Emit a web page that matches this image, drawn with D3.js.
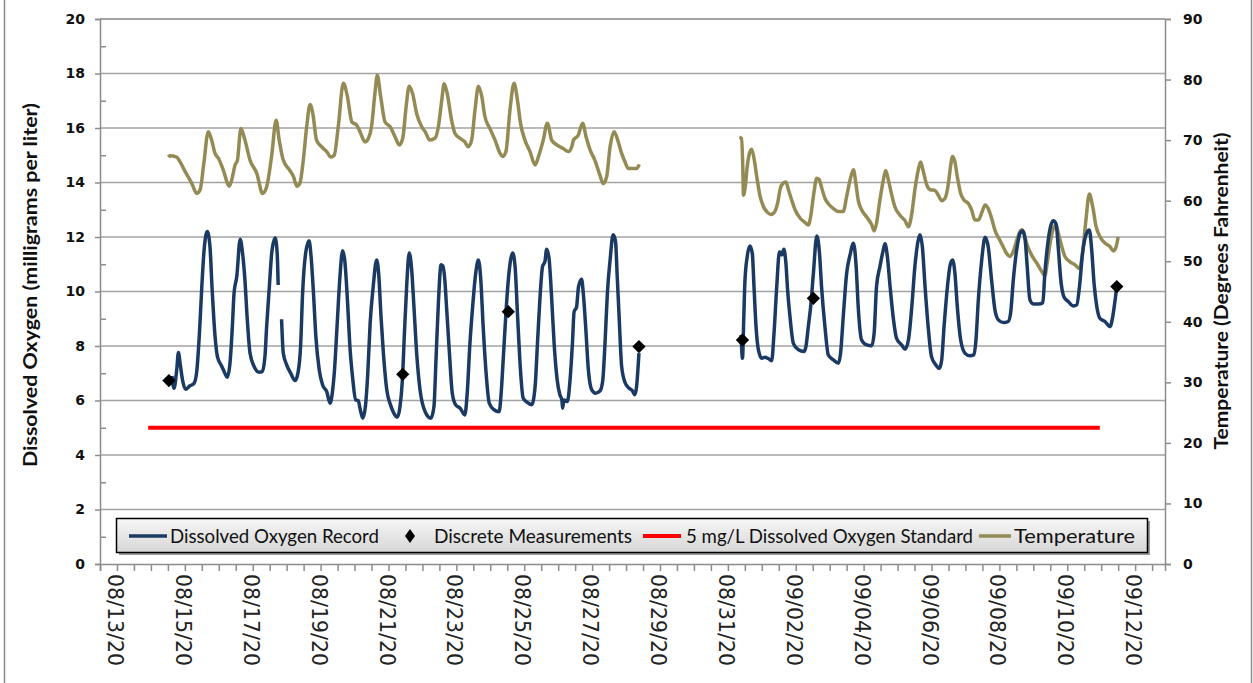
<!DOCTYPE html>
<html>
<head>
<meta charset="utf-8">
<script src="https://cdn.jsdelivr.net/npm/d3@7"></script>
<style>
  body { margin: 0; background: #fff; }
  svg { display: block; }
</style>
</head>
<body>
<svg></svg>
<script>
// Chart size
var width = 1253,
    height = 683

// Data: times are days after 08/13/20 00:00
var startDate = Date.UTC(2020, 7, 13)
var dateLabels = d3.range(0, 31, 2)

// Dissolved oxygen record (mg/L), three pieces with gaps between them
var doPiece1 = [[2.12,6.9],[2.18,6.45],[2.26,7.12],[2.31,7.76],[2.36,7.37],[2.43,6.76],[2.52,6.41],[2.65,6.54],[2.77,6.63],[2.85,7.06],[2.93,8.47],[3.00,10.18],[3.06,11.41],[3.16,12.20],[3.24,11.65],[3.30,10.18],[3.39,8.35],[3.46,7.61],[3.59,7.25],[3.68,7.00],[3.75,6.85],[3.83,7.37],[3.90,8.71],[3.95,9.94],[4.03,10.55],[4.13,11.92],[4.20,11.41],[4.27,10.43],[4.34,8.96],[4.42,7.74],[4.54,7.25],[4.69,7.04],[4.78,7.06],[4.86,7.61],[4.91,8.71],[4.99,10.18],[5.06,11.41],[5.16,11.96],[5.22,11.41],[5.25,10.24]]
var doPiece2 = [[5.35,8.98],[5.40,7.74],[5.50,7.31],[5.62,7.00],[5.75,6.73],[5.84,7.06],[5.91,7.98],[5.97,9.94],[6.06,11.41],[6.16,11.86],[6.22,11.28],[6.29,9.94],[6.36,8.35],[6.46,7.12],[6.56,6.57],[6.68,6.33],[6.78,5.90],[6.85,6.33],[6.91,7.12],[6.99,8.84],[7.07,10.55],[7.15,11.50],[7.22,11.04],[7.29,9.69],[7.37,7.86],[7.45,6.76],[7.53,6.02],[7.61,6.00],[7.66,5.72],[7.74,5.35],[7.82,5.78],[7.89,7.00],[7.96,8.84],[8.05,10.18],[8.15,11.16],[8.21,10.67],[8.28,9.08],[8.35,7.74],[8.45,6.39],[8.56,5.84],[8.66,5.53],[8.76,5.39],[8.84,5.78],[8.91,6.76],[8.97,8.47],[9.04,10.30],[9.11,11.41],[9.18,10.85],[9.25,9.45],[9.33,7.74],[9.43,6.39],[9.58,5.59],[9.75,5.35],[9.84,5.78],[9.90,7.49],[9.97,9.57],[10.05,10.98],[10.10,10.94],[10.16,10.43],[10.21,9.45],[10.29,7.86],[10.38,6.27],[10.48,5.84],[10.61,5.72],[10.75,5.47],[10.82,6.27],[10.90,8.10],[10.98,9.45],[11.07,10.67],[11.15,11.16],[11.22,10.43],[11.29,8.71],[11.37,7.12],[11.47,5.90],[11.61,5.66],[11.76,5.59],[11.82,6.27],[11.88,7.49],[11.96,9.20],[12.04,10.55],[12.16,11.41],[12.23,10.92],[12.30,9.20],[12.37,7.49],[12.47,6.08],[12.59,5.93],[12.72,5.84],[12.82,6.51],[12.89,8.10],[12.96,9.69],[13.04,10.92],[13.11,11.10],[13.16,11.55],[13.23,11.22],[13.30,9.94],[13.38,8.10],[13.47,6.76],[13.55,6.21],[13.61,6.02],[13.63,5.72],[13.67,6.02],[13.77,5.96],[13.85,6.76],[13.92,8.10],[13.97,9.26],[14.04,9.42],[14.10,10.18],[14.19,10.45],[14.24,9.94],[14.31,8.71],[14.39,7.12],[14.49,6.39],[14.60,6.27],[14.73,6.35],[14.81,6.70],[14.88,8.10],[14.95,9.94],[15.03,11.16],[15.12,12.08],[15.19,11.83],[15.24,10.55],[15.30,8.96],[15.37,7.25],[15.47,6.66],[15.59,6.45],[15.68,6.37],[15.76,6.21],[15.81,6.51],[15.88,7.74]]
var doPiece3 = [[18.89,8.41],[18.93,7.55],[18.97,9.08],[19.00,10.30],[19.07,11.28],[19.15,11.67],[19.22,11.40],[19.27,10.18],[19.33,8.71],[19.40,7.86],[19.50,7.55],[19.59,7.59],[19.69,7.54],[19.79,7.46],[19.86,8.47],[19.94,10.18],[20.02,11.46],[20.09,11.34],[20.15,11.55],[20.21,11.04],[20.26,10.06],[20.33,9.08],[20.43,8.10],[20.58,7.86],[20.74,7.80],[20.80,7.98],[20.87,8.71],[20.94,9.45],[21.02,10.67],[21.12,12.04],[21.20,11.40],[21.26,10.18],[21.36,8.71],[21.46,7.67],[21.61,7.49],[21.76,7.37],[21.82,7.73],[21.90,9.08],[22.00,10.67],[22.10,11.34],[22.20,11.77],[22.28,10.91],[22.34,9.45],[22.44,8.22],[22.59,8.04],[22.74,8.01],[22.81,8.47],[22.88,10.18],[22.98,10.91],[23.08,11.53],[23.13,11.75],[23.20,11.28],[23.28,10.18],[23.38,8.96],[23.47,8.28],[23.62,8.04],[23.72,7.88],[23.82,8.22],[23.92,9.45],[24.01,10.91],[24.11,11.89],[24.16,12.08],[24.23,11.65],[24.31,10.18],[24.41,8.59],[24.50,7.61],[24.63,7.30],[24.73,7.18],[24.80,7.49],[24.87,8.71],[24.97,10.18],[25.05,10.98],[25.12,11.16],[25.19,10.67],[25.26,9.45],[25.36,8.22],[25.49,7.73],[25.63,7.64],[25.75,7.67],[25.81,8.22],[25.88,9.69],[25.98,11.16],[26.08,11.99],[26.17,11.65],[26.27,10.42],[26.37,9.32],[26.47,8.96],[26.62,8.86],[26.76,8.90],[26.83,9.20],[26.91,10.42],[27.01,11.53],[27.11,12.14],[27.19,12.23],[27.26,11.89],[27.32,10.91],[27.40,9.69],[27.50,9.54],[27.65,9.54],[27.78,9.59],[27.84,10.67],[27.94,11.89],[28.02,12.44],[28.09,12.60],[28.17,12.48],[28.24,11.53],[28.31,10.42],[28.40,9.81],[28.53,9.63],[28.68,9.47],[28.78,9.51],[28.86,10.18],[28.95,11.40],[29.07,12.14],[29.15,12.26],[29.22,11.53],[29.29,10.30],[29.37,9.45],[29.46,9.02],[29.61,8.90],[29.76,8.71],[29.84,9.08],[29.91,9.69],[29.96,10.18]]

// Discrete measurements (mg/L)
var discrete = [[2.03,6.73],[8.92,6.96],[12.03,9.26],[15.88,7.98],[18.93,8.22],[21.02,9.75],[29.96,10.18]]

// 5 mg/L standard
var standard = [[1.42,5],[29.46,5]]

// Water temperature (degrees F), two pieces
var tempPiece1 = [[2.01,67.2],[2.06,67.4],[2.26,67.2],[2.36,66.4],[2.51,64.8],[2.70,62.9],[2.85,61.2],[2.95,61.8],[3.06,66.2],[3.19,71.4],[3.29,70.0],[3.39,67.8],[3.49,67.0],[3.63,65.1],[3.81,62.4],[3.88,63.4],[3.98,65.9],[4.05,66.7],[4.15,71.9],[4.27,70.0],[4.42,66.7],[4.62,64.5],[4.79,61.2],[4.91,62.3],[5.06,67.5],[5.19,73.3],[5.28,70.0],[5.40,66.7],[5.58,65.1],[5.70,64.0],[5.80,62.4],[5.89,62.9],[5.99,66.7],[6.09,72.2],[6.19,75.9],[6.27,74.4],[6.38,70.0],[6.53,68.9],[6.68,68.1],[6.80,67.2],[6.90,67.5],[7.02,72.2],[7.17,79.4],[7.29,77.2],[7.42,73.0],[7.56,72.5],[7.66,71.4],[7.81,69.7],[7.91,70.3],[8.00,72.2],[8.10,77.7],[8.17,80.7],[8.27,77.2],[8.40,73.0],[8.55,72.2],[8.69,70.6],[8.82,69.2],[8.92,70.3],[9.02,75.5],[9.11,78.9],[9.21,77.7],[9.33,74.4],[9.48,72.2],[9.58,71.4],[9.72,70.0],[9.87,70.3],[9.97,72.2],[10.07,76.6],[10.14,79.3],[10.23,77.7],[10.36,73.3],[10.46,71.1],[10.61,70.3],[10.75,69.7],[10.85,68.9],[10.95,70.0],[11.05,75.0],[11.15,78.9],[11.25,77.2],[11.34,73.9],[11.49,71.9],[11.64,70.0],[11.79,67.8],[11.86,67.3],[11.96,68.1],[12.08,75.0],[12.20,79.4],[12.30,76.6],[12.39,72.8],[12.52,70.0],[12.67,68.1],[12.82,65.9],[12.92,67.3],[13.06,70.0],[13.18,72.8],[13.31,70.0],[13.46,69.2],[13.65,68.6],[13.80,68.1],[13.90,68.9],[13.95,70.0],[14.09,70.8],[14.22,72.8],[14.32,70.6],[14.44,68.4],[14.58,66.7],[14.73,64.2],[14.83,62.8],[14.93,64.0],[15.03,68.9],[15.15,71.4],[15.27,69.7],[15.37,67.8],[15.47,66.4],[15.57,65.3],[15.81,65.3],[15.89,66.0]]
var tempPiece2 = [[18.84,70.5],[18.90,70.3],[18.94,65.6],[18.96,60.9],[19.01,62.2],[19.07,65.6],[19.13,67.7],[19.20,68.5],[19.27,67.0],[19.35,64.0],[19.45,60.7],[19.55,59.0],[19.66,58.1],[19.76,57.7],[19.84,57.9],[19.91,58.5],[19.97,59.7],[20.04,61.9],[20.13,62.9],[20.21,63.1],[20.28,61.9],[20.38,60.1],[20.48,58.5],[20.63,57.1],[20.77,56.4],[20.87,56.0],[20.94,57.4],[21.02,60.7],[21.12,63.7],[21.19,63.5],[21.26,62.2],[21.36,60.4],[21.46,59.5],[21.61,58.7],[21.76,58.2],[21.90,58.2],[22.00,60.7],[22.10,63.4],[22.20,65.1],[22.27,62.9],[22.34,60.1],[22.44,58.5],[22.59,57.3],[22.74,56.0],[22.81,55.0],[22.88,56.3],[22.98,60.1],[23.08,63.4],[23.15,65.0],[23.23,63.4],[23.33,60.9],[23.42,59.0],[23.57,57.6],[23.72,56.7],[23.82,55.7],[23.92,57.9],[24.01,61.8],[24.11,65.1],[24.18,66.4],[24.26,64.8],[24.36,62.6],[24.46,61.8],[24.60,61.7],[24.70,60.9],[24.80,60.0],[24.90,60.4],[25.00,62.9],[25.06,65.6],[25.12,67.3],[25.19,66.4],[25.26,64.0],[25.36,61.2],[25.46,60.1],[25.59,59.5],[25.68,58.5],[25.78,56.8],[25.88,56.8],[25.98,58.0],[26.08,59.3],[26.17,58.7],[26.27,57.1],[26.37,55.1],[26.52,53.4],[26.62,52.3],[26.71,51.3],[26.81,50.8],[26.91,51.6],[27.01,53.4],[27.09,54.7],[27.16,55.2],[27.23,54.5],[27.30,53.0],[27.45,51.0],[27.60,49.7],[27.75,48.3],[27.84,47.6],[27.91,49.7],[28.01,53.5],[28.09,55.4],[28.17,56.0],[28.24,54.6],[28.34,52.4],[28.43,50.8],[28.58,49.9],[28.73,49.4],[28.86,48.8],[28.95,51.3],[29.05,56.8],[29.15,61.1],[29.25,59.0],[29.35,55.7],[29.46,54.1],[29.61,53.0],[29.76,52.4],[29.86,51.7],[29.94,52.4],[30.00,54.0]]

// Axis tick values
var doTicks = d3.range(0, 21, 2),
    doMinor = d3.range(1, 20, 2),
    tempTicks = d3.range(0, 91, 10)

// Legend entries
var legendItems = ["Dissolved Oxygen Record", "Discrete Measurements",
                   "5 mg/L Dissolved Oxygen Standard", "Temperature"]

var navy = "#1b3a63",
    olive = "#948a54",
    red = "#ff0000",
    gridGray = "#a3a3a3"

function toDate(d) { return new Date(startDate + d * 864e5) }

var svg = d3.select("svg")
    .attr("width", width)
    .attr("height", height)

// Scales
var x = d3.scaleUtc()
    .domain([toDate(0), toDate(31.38)])
    .range([100, 1165])
var yDO = d3.scaleLinear().domain([0, 20]).range([564, 19])
var yT = d3.scaleLinear().domain([0, 90]).range([564, 19])

// Outer chart frame
svg.append("rect")
    .attr("x", 4.5).attr("y", -20)
    .attr("width", 1247).attr("height", 740)
    .style("fill", "none")
    .style("stroke", "#8c8c8c")
    .style("stroke-width", "1.5px")

// Horizontal gridlines
svg.append("g")
    .selectAll("line")
    .data(doTicks.slice(1))
    .enter().append("line")
    .attr("x1", 100).attr("x2", 1165)
    .attr("y1", function(d) { return yDO(d) })
    .attr("y2", function(d) { return yDO(d) })
    .style("stroke", gridGray)
    .style("stroke-width", function(d) { return d == 20 ? "2px" : "1.5px" })

// Left axis
var leftAxis = svg.append("g")
    .attr("transform", "translate(100,0)")
    .call(d3.axisLeft(yDO).tickValues(doTicks).tickSize(5).tickPadding(10))
leftAxis.append("g")
    .call(d3.axisLeft(yDO).tickValues(doMinor).tickSize(-6).tickFormat(""))
    .select(".domain").remove()

// Right axis
var rightAxis = svg.append("g")
    .attr("transform", "translate(1165,0)")
    .call(d3.axisRight(yT).tickValues(tempTicks).tickSize(6).tickPadding(12))

// Bottom axis, tick every 12 hours
var bottomAxis = svg.append("g")
    .attr("transform", "translate(0,564)")
    .call(d3.axisBottom(x)
        .tickValues(d3.range(0, 31.01, 0.5).map(toDate))
        .tickSize(7).tickFormat(""))

svg.selectAll(".domain, .tick line")
    .style("stroke", "#8c8c8c")
    .style("stroke-width", "1.5px")

svg.selectAll(".tick text")
    .style("font", "bold 14px 'DejaVu Sans'")
    .style("fill", "#111")

// Rotated date labels
var fmt = d3.utcFormat("%m/%d/%y")
svg.append("g")
    .selectAll("text")
    .data(dateLabels)
    .enter().append("text")
    .attr("transform", function(d) {
        return "translate(" + (x(toDate(d)) + 8) + ",574) rotate(90)"
    })
    .style("font", "20.5px 'DejaVu Sans'")
    .style("fill", "#222")
    .text(function(d) { return fmt(toDate(d)) })

// Axis titles
svg.append("text")
    .attr("transform", "translate(37,285) rotate(-90)")
    .attr("text-anchor", "middle")
    .attr("textLength", 364)
    .attr("lengthAdjust", "spacingAndGlyphs")
    .style("font", "bold 18.5px Lato")
    .style("fill", "#111")
    .text("Dissolved Oxygen (milligrams per liter)")

svg.append("text")
    .attr("transform", "translate(1228,291) rotate(-90)")
    .attr("text-anchor", "middle")
    .attr("textLength", 317)
    .attr("lengthAdjust", "spacingAndGlyphs")
    .style("font", "bold 18.5px Lato")
    .style("fill", "#111")
    .text("Temperature (Degrees Fahrenheit)")

// Line generators
var doLine = d3.line()
    .curve(d3.curveMonotoneX)
    .x(function(d) { return x(toDate(d[0])) })
    .y(function(d) { return yDO(d[1]) })
var tLine = d3.line()
    .curve(d3.curveMonotoneX)
    .x(function(d) { return x(toDate(d[0])) })
    .y(function(d) { return yT(d[1]) })

// 5 mg/L standard
svg.append("path")
    .attr("d", doLine(standard))
    .style("fill", "none")
    .style("stroke", red)
    .style("stroke-width", "4px")

// Temperature record
svg.selectAll(".temp")
    .data([tempPiece1, tempPiece2])
    .enter().append("path")
    .attr("class", "temp")
    .attr("d", tLine)
    .style("fill", "none")
    .style("stroke", olive)
    .style("stroke-width", "3.5px")
    .style("stroke-linejoin", "round")

// Dissolved oxygen record
svg.selectAll(".do")
    .data([doPiece1, doPiece2, doPiece3])
    .enter().append("path")
    .attr("class", "do")
    .attr("d", doLine)
    .style("fill", "none")
    .style("stroke", navy)
    .style("stroke-width", "3.5px")
    .style("stroke-linejoin", "round")

// Discrete measurements as diamonds
var diamond = d3.symbol().type(d3.symbolSquare).size(88)
svg.selectAll(".meas")
    .data(discrete)
    .enter().append("path")
    .attr("class", "meas")
    .attr("d", diamond)
    .attr("transform", function(d) {
        return "translate(" + x(toDate(d[0])) + "," + yDO(d[1]) + ") rotate(45)"
    })
    .style("fill", "#000")

// Legend
var defs = svg.append("defs")
var grad = defs.append("linearGradient")
    .attr("id", "legendFill")
    .attr("x1", 0).attr("y1", 0).attr("x2", 0).attr("y2", 1)
grad.append("stop").attr("offset", "0%").attr("stop-color", "#f7f7f7")
grad.append("stop").attr("offset", "100%").attr("stop-color", "#d6d6d6")

var legend = svg.append("g")
legend.append("rect")
    .attr("x", 119).attr("y", 521)
    .attr("width", 1031).attr("height", 34)
    .style("fill", "#9a9a9a")
legend.append("rect")
    .attr("x", 116.5).attr("y", 518.5)
    .attr("width", 1031).attr("height", 34)
    .style("fill", "url(#legendFill)")
    .style("stroke", "#000")
    .style("stroke-width", "1.5px")

// Legend text positions and widths
var legendX = [170, 434, 686, 1014],
    legendW = [209, 198, 287, 121]
legend.selectAll("text")
    .data(legendItems)
    .enter().append("text")
    .attr("x", function(d, i) { return legendX[i] })
    .attr("y", 543)
    .attr("textLength", function(d, i) { return legendW[i] })
    .attr("lengthAdjust", "spacingAndGlyphs")
    .style("font", "19px Lato")
    .style("fill", "#111")
    .text(function(d) { return d })

// Legend symbols
legend.append("line")
    .attr("x1", 129).attr("x2", 167).attr("y1", 536).attr("y2", 536)
    .style("stroke", navy).style("stroke-width", "3.5px")
legend.append("path")
    .attr("d", "M0,-7L5,0L0,7L-5,0Z")
    .attr("transform", "translate(410,536)")
    .style("fill", "#000")
legend.append("line")
    .attr("x1", 643).attr("x2", 681).attr("y1", 536).attr("y2", 536)
    .style("stroke", red).style("stroke-width", "4px")
legend.append("line")
    .attr("x1", 979).attr("x2", 1011).attr("y1", 536).attr("y2", 536)
    .style("stroke", olive).style("stroke-width", "3.5px")
</script>
</body>
</html>
